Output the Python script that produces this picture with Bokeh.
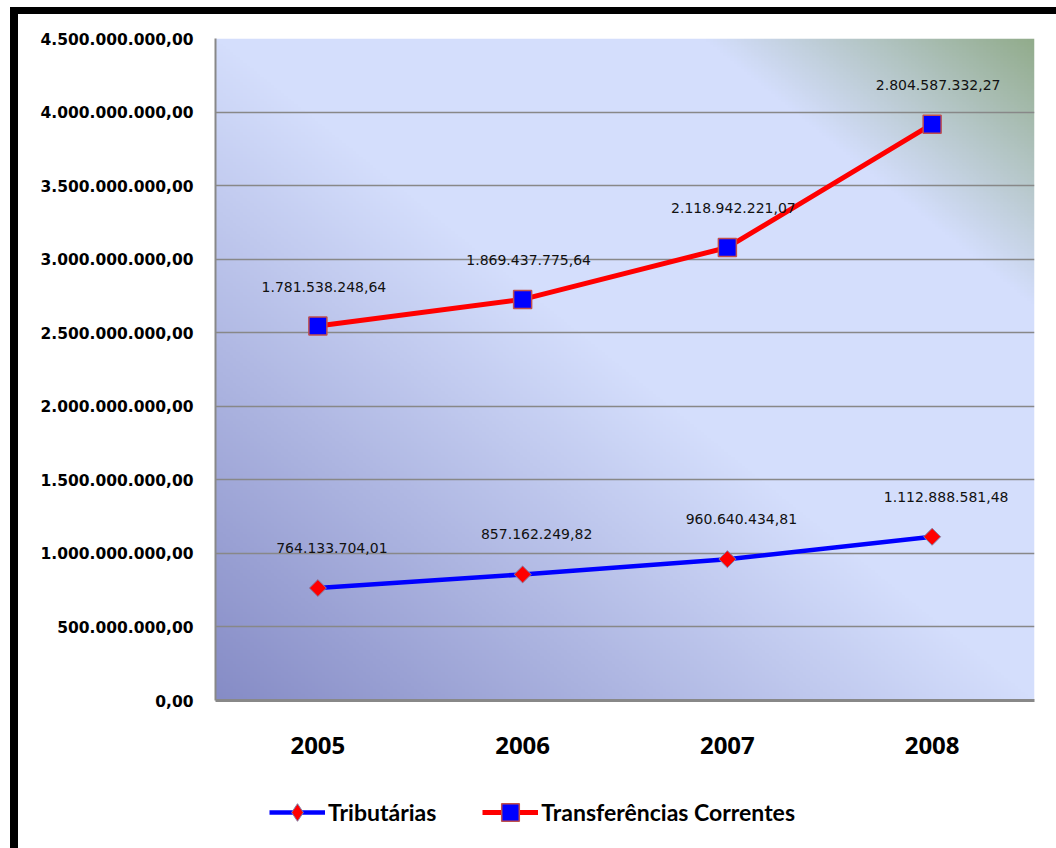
import numpy as np
from bokeh.plotting import figure
from bokeh.layouts import column, row
from bokeh.models import (Range1d, FixedTicker, Legend, LegendItem, Div, Spacer,
                          ColumnDataSource)
from bokeh.embed import file_html
from bokeh.resources import INLINE

# --- data -----------------------------------------------------------------
anos = [2005, 2006, 2007, 2008]
tributarias = [764133704.01, 857162249.82, 960640434.81, 1112888581.48]
transferencias = [1781538248.64, 1869437775.64, 2118942221.07, 2804587332.27]

y_ticks = [0, 500000000, 1000000000, 1500000000, 2000000000,
           2500000000, 3000000000, 3500000000, 4000000000, 4500000000]
y_tick_labels = ["0,00", "500.000.000,00", "1.000.000.000,00", "1.500.000.000,00",
                 "2.000.000.000,00", "2.500.000.000,00", "3.000.000.000,00",
                 "3.500.000.000,00", "4.000.000.000,00", "4.500.000.000,00"]


def fmt_br(v):
    s = f"{v:,.2f}"
    return s.replace(",", "#").replace(".", ",").replace("#", ".")


# stacked lines: the second series sits on top of the first
topo = [a + b for a, b in zip(tributarias, transferencias)]

src_trib = ColumnDataSource(dict(x=anos, y=tributarias,
                                 lbl=[fmt_br(v) for v in tributarias]))
src_transf = ColumnDataSource(dict(x=anos, y=topo,
                                   lbl=[fmt_br(v) for v in transferencias]))

# glyph styles shared by the chart and its legend
trib_line = dict(line_color="#0000ff", line_width=4.5)
trib_mark = dict(marker="square", angle=np.pi / 4, size=12,
                 fill_color="#ff0000", line_color="#8080a8", line_width=1)
transf_line = dict(line_color="#ff0000", line_width=5)
transf_mark = dict(marker="square", size=18, fill_color="#0000ff",
                   line_color="#c0504d", line_width=1.5)

# --- main chart -----------------------------------------------------------
p = figure(width=1038, height=766, output_backend="svg", toolbar_location=None,
           x_range=Range1d(2004.5, 2008.5), y_range=Range1d(0, 4500000000),
           min_border_left=197, min_border_right=22, min_border_top=24,
           min_border_bottom=80)
p.background_fill_color = "white"
p.border_fill_color = "white"
p.outline_line_color = None

# diagonal gradient behind the plot area
n = 240
u = np.linspace(0, 1, n)[None, :]
v = np.linspace(0, 1, n)[:, None]
t = (u + v) / 2.0
stops_t = [0.0, 0.5, 0.8, 1.0]
stops_c = [(134, 140, 198), (212, 222, 252), (212, 222, 252), (146, 172, 140)]
rgba = np.zeros((n, n, 4), dtype=np.uint8)
for k in range(3):
    rgba[..., k] = np.interp(t, stops_t, [c[k] for c in stops_c]).astype(np.uint8)
rgba[..., 3] = 255
img = rgba.view(dtype=np.uint32).reshape((n, n))
p.image_rgba(image=[img], x=2004.5, y=0, dw=4, dh=4500000000, level="image")

# axes
p.xaxis.ticker = FixedTicker(ticks=anos)
p.xaxis.major_label_text_font = "Open Sans"
p.xaxis.major_label_text_font_style = "bold"
p.xaxis.major_label_text_font_size = "24px"
p.xaxis.major_label_text_color = "black"
p.xaxis.major_label_standoff = 30
p.xaxis.major_tick_line_color = None
p.xaxis.minor_tick_line_color = None
p.xaxis.axis_line_color = "#888888"
p.xaxis.axis_line_width = 3

p.yaxis.ticker = FixedTicker(ticks=y_ticks)
p.yaxis.major_label_overrides = {tk: lb for tk, lb in zip(y_ticks, y_tick_labels)}
p.yaxis.major_label_text_font = "DejaVu Sans"
p.yaxis.major_label_text_font_style = "bold"
p.yaxis.major_label_text_font_size = "15.5px"
p.yaxis.major_label_text_color = "black"
p.yaxis.major_label_standoff = 16
p.yaxis.major_tick_line_color = None
p.yaxis.minor_tick_line_color = None
p.yaxis.axis_line_color = "#888888"
p.yaxis.axis_line_width = 2

p.xgrid.grid_line_color = None
p.ygrid.grid_line_color = "#888888"
p.ygrid.grid_line_width = 1.5

# series
p.line("x", "y", source=src_trib, **trib_line)
p.scatter("x", "y", source=src_trib, **trib_mark)
p.line("x", "y", source=src_transf, **transf_line)
p.scatter("x", "y", source=src_transf, **transf_mark)

# value labels
p.text("x", "y", text="lbl", source=src_trib, x_offset=14, y_offset=-40,
       text_align="center", text_baseline="middle", text_font_size="14px",
       text_color="#111111", text_font={"value": "DejaVu Sans"})
p.text("x", "y", text="lbl", source=src_transf, x_offset=6, y_offset=-39,
       text_align="center", text_baseline="middle", text_font_size="14px",
       text_color="#111111", text_font={"value": "DejaVu Sans"})

# --- legend strip -----------------------------------------------------------
lg = figure(width=1038, height=68, output_backend="svg", toolbar_location=None,
            x_range=Range1d(0, 1), y_range=Range1d(0, 1), min_border=0)
lg.axis.visible = False
lg.grid.grid_line_color = None
lg.outline_line_color = None
lg.background_fill_color = "white"
lg.border_fill_color = "white"
# legend proxies: single points parked outside the visible range
off = dict(x=[-10], y=[-10])
trib_key = dict(trib_mark, marker="diamond", angle=0)
r1 = lg.line(source=ColumnDataSource(off), **trib_line)
r2 = lg.scatter(source=ColumnDataSource(off), **trib_key)
r3 = lg.line(source=ColumnDataSource(off), **transf_line)
r4 = lg.scatter(source=ColumnDataSource(off), **transf_mark)
legend = Legend(items=[LegendItem(label="Tributárias", renderers=[r1, r2]),
                       LegendItem(label="Transferências Correntes", renderers=[r3, r4])],
                location=(54, 14), orientation="horizontal",
                glyph_width=56, glyph_height=44, label_standoff=3, spacing=46,
                padding=0, margin=0, border_line_color=None,
                background_fill_alpha=0,
                label_text_font="Lato", label_text_font_style="bold",
                label_text_font_size="23px", label_text_color="black")
lg.add_layout(legend, "center")

# --- page: black rules along the top and left ---------------------------------
black = {"background-color": "black"}
layout = column(
    Spacer(width=1056, height=7, margin=0),
    row(Spacer(width=10, height=7, margin=0),
        Div(width=1046, height=7, styles=black, margin=0), spacing=0),
    row(Spacer(width=10, height=834, margin=0),
        Div(width=8, height=834, styles=black, margin=0),
        column(p, lg, spacing=0), spacing=0),
    spacing=0,
)

open("out.html", "w").write(file_html(layout, INLINE))
